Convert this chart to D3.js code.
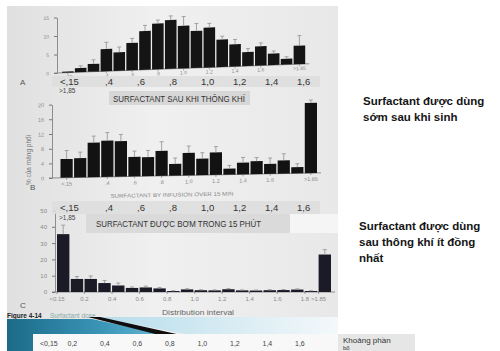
<!DOCTYPE html>
<html><head><meta charset="utf-8">
<script src="https://cdn.jsdelivr.net/npm/d3@7"></script>
<style>body{margin:0;background:#fff;} svg{display:block;font-family:"Liberation Sans",Arial,sans-serif;}</style>
</head><body><svg id="c" width="500" height="351"></svg>
<script>
// ---------- data ----------
const binsAB = ["<.15",".2",".3",".4",".5",".6",".7",".8",".9","1.0","1.1","1.2","1.3","1.4","1.5","1.6","1.7","1.8",">1.85"];
const tickBinsAB = ["<.15",".4",".6",".8","1.0","1.2","1.4","1.6",">1.85"];
const valuesA = [0.3,1.1,2.1,6.0,5.0,7.4,10.5,12.4,13.2,11.5,10.0,10.8,7.4,6.0,3.8,5.2,3.1,1.6,5.0];
const errorsA = [0,0.6,1.1,1.8,1.4,1.2,1.5,0.9,1.1,2.5,2.0,1.1,0.9,1.3,0.9,0.9,0.7,0.5,2.7];
const ticksA = [0,5,10,15];
const valuesB = [5.1,5.3,9.4,9.9,9.7,5.3,5.2,6.8,3.2,6.1,4.5,6.1,1.6,3.2,3.5,2.7,3.6,1.7,19.1];
const errorsB = [2.3,1.6,1.8,2.2,1.8,1.6,1.8,2.5,1.6,1.9,1.6,1.6,0.9,1.4,1.0,1.6,1.8,0.9,0.8];
const ticksB = [0,4,8,12,16,20];
const binsC = ["<0.15","0.15","0.2","0.3","0.4","0.5","0.6","0.7","0.8","0.9","1.0","1.1","1.2","1.3","1.4","1.5","1.6","1.7","1.8",">1.85"];
const tickBinsC = ["<0.15","0.2","0.4","0.6","0.8","1.0","1.2","1.4","1.6","1.8",">1.85"];
const valuesC = [35.5,8,8,5.5,4,2.5,2.8,2.2,0.6,1.6,1.1,1.0,1.7,1.0,0.9,1.1,1.2,1.5,0.6,23];
const errorsC = [5.5,1.5,1.8,1.5,1.5,0.6,0.8,0.6,0.2,0.4,0.3,0.3,0.4,0.3,0.3,0.3,0.3,0.4,0.2,3];
const ticksC = [0,10,20,30,40,50];
const overlayValues = [0.15,0.4,0.6,0.8,1.0,1.2,1.4,1.6];
const overlayLabels = ["<,15",",4",",6",",8","1,0","1,2","1,4","1,6"];
const bottomLabels = ["<0,15","0,2","0,4","0,6","0,8","1,0","1,2","1,4","1,6"];
const bottomValues = [0.15,0.2,0.4,0.6,0.8,1.0,1.2,1.4,1.6];
const titleA = "SURFACTANT SAU KHI THÔNG KHÍ";
const titleC = "SURFACTANT ĐƯỢC BƠM TRONG 15  PHÚT";
const axisTitleB = "SURFACTANT BY INFUSION OVER 15 MIN";
const axisTitleC = "Distribution interval";
const yLabelB = "% của mảng phổi";
const noteTop = ["Surfactant được dùng","sớm sau khi sinh"];
const noteBottom = ["Surfactant được dùng","sau thông khí ít đồng","nhất"];

// ---------- drawing ----------
const svg = d3.select("#c");
const defs = svg.append("defs");
const pg = defs.append("linearGradient").attr("id","paper").attr("x1",0).attr("y1",0).attr("x2",1).attr("y2",0);
pg.append("stop").attr("offset","0%").attr("stop-color","#e0e0e0");
pg.append("stop").attr("offset","45%").attr("stop-color","#f0f0f0");
pg.append("stop").attr("offset","100%").attr("stop-color","#e8e8e8");
const tg = defs.append("linearGradient").attr("id","teal").attr("x1",0).attr("y1",0).attr("x2",1).attr("y2",0);
tg.append("stop").attr("offset","0%").attr("stop-color","#1b6a88");
tg.append("stop").attr("offset","55%").attr("stop-color","#3c97b9");
tg.append("stop").attr("offset","100%").attr("stop-color","#7cc3dc");
const lg = defs.append("linearGradient").attr("id","lblue").attr("x1",0).attr("y1",0).attr("x2",1).attr("y2",0);
lg.append("stop").attr("offset","0%").attr("stop-color","#b4dcea");
lg.append("stop").attr("offset","100%").attr("stop-color","#f4f8fa");

svg.append("rect").attr("width",500).attr("height",351).attr("fill","#fff");
svg.append("rect").attr("x",7).attr("y",6).attr("width",331).attr("height",328).attr("fill","url(#paper)");

function panel(o){
  const x = d3.scaleBand().domain(o.bins).range([o.x0, o.x0 + o.step*o.bins.length]).paddingInner(o.pad).paddingOuter(0);
  const y = d3.scaleLinear().domain([0,o.yMax]).range([o.y0, o.y0 - o.yMax*o.ppu]);
  const g = svg.append("g").attr("transform",`translate(${o.axisX},${o.y0}) skewY(${o.skew}) translate(${-o.axisX},${-o.y0})`);
  g.append("line").attr("x1",o.axisX-3).attr("x2",o.x0 + o.step*o.bins.length + 4)
    .attr("y1",o.y0).attr("y2",o.y0).attr("stroke","#777").attr("stroke-width",0.8);
  g.append("g").attr("transform",`translate(${o.axisX},0)`)
    .call(d3.axisLeft(y).tickValues(o.yTicks).tickSize(3).tickSizeOuter(0).tickPadding(5))
    .call(s=>{
      s.select(".domain").attr("stroke","#777").attr("stroke-width",0.8);
      s.selectAll(".tick line").attr("stroke","#777");
      s.selectAll("text").attr("fill","#8a8a8a").attr("font-size",o.tickFont).attr("font-family","Liberation Sans, Arial");
    });
  g.selectAll("rect.bar").data(o.values).join("rect").attr("class","bar")
    .attr("x",(d,i)=>x(o.bins[i])).attr("width",x.bandwidth())
    .attr("y",d=>y(d)).attr("height",d=>o.y0-y(d)).attr("fill",o.color);
  const eb = g.append("g").attr("stroke","#9a9a9a").attr("stroke-width",0.9);
  o.values.forEach((d,i)=>{
    if(!o.errors[i]) return;
    const cx = x(o.bins[i]) + x.bandwidth()/2;
    eb.append("line").attr("x1",cx).attr("x2",cx).attr("y1",y(d)).attr("y2",y(d+o.errors[i]));
    eb.append("line").attr("x1",cx-2).attr("x2",cx+2).attr("y1",y(d+o.errors[i])).attr("y2",y(d+o.errors[i]));
  });
  o.tickBins.forEach(b=>{
    const tx = o.edge ? x(b) : x(b) + x.bandwidth()/2;
    g.append("line").attr("x1",tx).attr("x2",tx).attr("y1",o.y0).attr("y2",o.y0+2).attr("stroke","#777").attr("stroke-width",0.7);
    g.append("text").attr("x",tx).attr("y",o.y0+o.labelDy).attr("text-anchor","middle")
      .attr("font-size",o.xFont).attr("fill","#8a8a8a").text(b);
  });
  if(o.axisTitle){
    g.append("text").attr("x",o.axisTitle.x).attr("y",o.y0+o.axisTitle.dy).attr("text-anchor","middle")
      .attr("font-size",o.axisTitle.size).attr("fill",o.axisTitle.color)
      .attr("textLength",o.axisTitle.len).attr("lengthAdjust","spacingAndGlyphs").text(o.axisTitle.text);
  }
  return {x,y,g};
}

panel({bins:binsAB, values:valuesA, errors:errorsA, x0:62, step:12.8, pad:0.1, y0:73, ppu:3.7, yMax:15,
  yTicks:ticksA, skew:-2.1, axisX:57, tickFont:"5px", xFont:"5px", labelDy:6, tickBins:tickBinsAB, color:"#141414"});
panel({bins:binsAB, values:valuesB, errors:errorsB, x0:60.5, step:13.5, pad:0.1, y0:178, ppu:3.67, yMax:20,
  yTicks:ticksB, skew:-1.1, axisX:52, tickFont:"5.5px", xFont:"5.5px", labelDy:8, tickBins:tickBinsAB, color:"#121212",
  axisTitle:{text:axisTitleB, x:172, dy:21, size:"5.5px", color:"#8a8a8a", len:123}});
panel({bins:binsC, values:valuesC, errors:errorsC, x0:57, step:13.7, pad:0.1, y0:292, ppu:1.63, yMax:50,
  yTicks:ticksC, skew:0, axisX:55, tickFont:"6px", xFont:"6px", labelDy:9, tickBins:tickBinsC, color:"#1b1b27", edge:true,
  axisTitle:{text:axisTitleC, x:198, dy:23, size:"6.5px", color:"#666", len:72}});

// panel letters & y label
[["A",20,85],["B",30,190],["C",20,308]].forEach(([t,x,y])=>svg.append("text").attr("x",x).attr("y",y).attr("font-size","8px").attr("fill","#555").text(t));
svg.append("text").attr("transform","translate(31,160) rotate(-90)").attr("text-anchor","middle")
  .attr("font-size","6.5px").attr("fill","#777").text(yLabelB);

// overlay label bands
const ox = d3.scaleLinear().domain([0.4,1.6]).range([105,297]);
function band(y, h, base, small){
  svg.append("rect").attr("x",52).attr("y",y).attr("width",268).attr("height",h).attr("fill","#dedede").attr("opacity",0.9);
  svg.selectAll(null).data(overlayValues).join("text")
    .attr("x",(d,i)=> i===0 ? ox(d)-5 : ox(d)).attr("y",base)
    .attr("font-size","9.5px").attr("fill","#333").text((d,i)=>overlayLabels[i]);
  svg.append("text").attr("x",59).attr("y",small).attr("font-size","6.5px").attr("fill","#444").text(">1,85");
}
band(76,11,85,93);
band(201,13,211,220);

// title boxes
svg.append("rect").attr("x",109).attr("y",91).attr("width",141).attr("height",14).attr("fill","#d7d7d7");
svg.append("text").attr("x",113).attr("y",101.5).attr("font-size","9px").attr("fill","#333")
  .attr("textLength",132).attr("lengthAdjust","spacingAndGlyphs").text(titleA);
svg.append("rect").attr("x",290).attr("y",214).attr("width",48).attr("height",19).attr("fill","#f5f5f5");
svg.append("rect").attr("x",86).attr("y",214).attr("width",204).attr("height",19).attr("fill","#dadada");
svg.append("text").attr("x",96).attr("y",227).attr("font-size","9.5px").attr("fill","#333")
  .attr("textLength",165).attr("lengthAdjust","spacingAndGlyphs").text(titleC);

// figure caption
svg.append("text").attr("x",7).attr("y",318).attr("font-size","6.5px").attr("font-weight","bold").attr("fill","#222").text("Figure 4-14");
svg.append("text").attr("x",50).attr("y",318).attr("font-size","6.5px").attr("fill","#8aa").text("Surfactant dose");

// bottom decoration
svg.append("polygon").attr("points","95,317 338,317 338,334 185,334").attr("fill","url(#lblue)");
svg.append("polygon").attr("points","7,319 92,319 185,339 185,351 7,351").attr("fill","url(#teal)");
svg.append("polygon").attr("points","88,317 100,317 190,337 175,339").attr("fill","#0e0e0e");
svg.append("rect").attr("x",33).attr("y",334).attr("width",305).attr("height",17).attr("fill","#f8f8f8");
const bx = d3.scaleLinear().domain([0.4,1.6]).range([100,295]);
svg.selectAll(null).data(bottomValues).join("text")
  .attr("x",(d,i)=> i===0 ? 40 : bx(d)).attr("y",346)
  .attr("font-size","7px").attr("fill","#444").text((d,i)=>bottomLabels[i]);
svg.append("rect").attr("x",338).attr("y",334).attr("width",77).attr("height",17).attr("fill","#e6e6e6");
svg.append("text").attr("x",343).attr("y",343).attr("font-size","8px").attr("fill","#333").text("Khoảng phần");
svg.append("text").attr("x",343).attr("y",350).attr("font-size","6px").attr("fill","#333").text("bố");

// right notes
function note(lines, x, y0){
  lines.forEach((t,i)=>svg.append("text").attr("x",x).attr("y",y0+i*16.2)
    .attr("font-size","11.5px").attr("font-weight","bold").attr("fill","#151515").text(t));
}
note(noteTop,363,105);
note(noteBottom,359,230);
</script></body></html>
